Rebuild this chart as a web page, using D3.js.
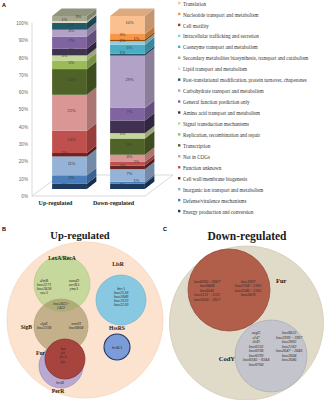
<!DOCTYPE html>
<html><head><meta charset="utf-8">
<script src="https://cdn.jsdelivr.net/npm/d3@7"></script>
<style>body{margin:0;background:#fff}svg{display:block}</style>
</head><body>
<svg id="c" width="327" height="400"></svg>
<script>
// ---------- DATA ----------
// COG categories, stacking order bottom -> top
const categories = [
  "Energy production and conversion",
  "Defense/virulence mechanisms",
  "Inorganic ion transport and metabolism",
  "Cell wall/membrane biogenesis",
  "Function unknown",
  "Not in COGs",
  "Transcription",
  "Replication, recombination and repair",
  "Signal transduction mechanisms",
  "Amino acid transport and metabolism",
  "General function prediction only",
  "Carbohydrate transport and metabolism",
  "Post-translational modification, protein turnover, chaperones",
  "Lipid transport and metabolism",
  "Secondary metabolites biosynthesis, transport and catabolism",
  "Coenzyme transport and metabolism",
  "Intracellular trafficking and secretion",
  "Cell motility",
  "Nucleotide transport and metabolism",
  "Translation"
];
const categoryColors = [
  "#1f3a5f","#4a7ebb","#95b3d7","#6b2421","#c0504d","#da9694","#4f6228","#9bbb59",
  "#c4d79b","#403151","#8064a2","#b3a2c7","#215968","#ddd9c3","#a5a88f","#4bacc6",
  "#93cddd","#984807","#f79646","#fac090"
];
const groups = ["Up-regulated","Down-regulated"];
const upValues   = [3,5,11,2,13,21,15,5,3,4,7,4,4,1,3,0,0,0,0,0];
const downValues = [3,1,7,2,2,4,9,0,3,7,7,29,1,0,0,5,2,1,3,10];
const yTicks = [0,0.1,0.2,0.3,0.4,0.5,0.6,0.7,0.8,0.9,1];

// Venn gene lists
const upLexA_left  = ["dinB","lmo2271","lmo2828","recA"];
const upLexA_right = ["umuD","uvrBA","yneA"];
const upLexA_SigB  = ["lmo2421-","1422"];
const upSigB_left  = ["clpE","lmo2398"];
const upSigB_right = ["mntH","lmo0804"];
const upFur        = ["kat","fri","frvA","fur"];
const upPerR       = ["hrtB"];
const upLisR       = ["htrA","lmo2518","lmo1080","lmo1919","lmo2210"];
const upHssRS      = ["hrtBA"];
const downFur_left  = ["lmo0365 - 0367","lmo0484","lmo0541","lmo1131 - 1132","lmo1956 - 1957"];
const downFur_right = ["lmo1007","lmo2104 - 2105","lmo2186 - 2185","lmo2430"];
const downCodY_left  = ["argG","clsF","ilvD","lmo0193","lmo0298","lmo0299","lmo0345 - 0344","lmo0768"];
const downCodY_right = ["lmo0833","lmo1999 - 1997","lmo2003","lmo2183","lmo2647 - 2646","lmo2664","lmo2686"];

// ---------- CHART A ----------
const svg = d3.select("#c");
const serif = "'Liberation Serif','Times New Roman',serif";
const sans = "'Liberation Sans',Arial,sans-serif";

svg.append("text").attr("x",2).attr("y",7).text("A")
  .attr("font-family",sans).attr("font-size",5.5).attr("font-weight","bold");

const rows = groups.map((g,gi)=>{
  const r = {group:g};
  categories.forEach((c,i)=>{ r[c] = gi===0 ? upValues[i] : downValues[i]; });
  return r;
});
const stack = d3.stack().keys(categories).offset(d3.stackOffsetExpand)(rows);

const x = d3.scaleBand().domain(groups).range([40.5,156.5]).paddingInner(0.4).paddingOuter(0.2);
const y = d3.scaleLinear().domain([0,1]).range([189,16]);
const yAx = d3.scaleLinear().domain([0,1]).range([196,23]);
const dx = 9.5, dy = -7.5;
const bw = x.bandwidth();

// floor & wall
const fx0 = 32, fx1 = 145;
svg.append("polygon")
  .attr("points",[[fx0,yAx(0)],[fx1,yAx(0)],[fx1+28,yAx(0)-21],[fx0+28,yAx(0)-21]].map(p=>p.join(",")).join(" "))
  .attr("fill","none").attr("stroke","#cfcfcf").attr("stroke-width",0.8);
svg.append("line").attr("x1",fx0).attr("x2",fx0).attr("y1",yAx(1)).attr("y2",yAx(0))
  .attr("stroke","#cfcfcf").attr("stroke-width",0.8);

const ax = svg.append("g").attr("transform",`translate(${fx0},0)`)
  .call(d3.axisLeft(yAx).tickValues(yTicks).tickFormat(d3.format(".0%")).tickSize(0).tickPadding(4));
ax.select(".domain").remove();
ax.selectAll("text").attr("font-family",sans).attr("font-size",4.6).attr("fill","#6a6a6a");

const bars = svg.append("g");
stack.forEach((s,si)=>{
  const col = categoryColors[si];
  s.forEach((d,gi)=>{
    if (d[1]-d[0] <= 0) return;
    const x0 = x(groups[gi]);
    const y1 = y(d[1]), y0 = y(d[0]);
    bars.append("rect").attr("x",x0).attr("y",y1).attr("width",bw).attr("height",y0-y1).attr("fill",col);
    bars.append("polygon")
      .attr("points",[[x0+bw,y1],[x0+bw+dx,y1+dy],[x0+bw+dx,y0+dy],[x0+bw,y0]].map(p=>p.join(",")).join(" "))
      .attr("fill",d3.color(col).darker(0.7));
  });
});
// top faces
groups.forEach((g,gi)=>{
  let top = -1;
  stack.forEach((s,si)=>{ if (s[gi][1]-s[gi][0] > 0) top = si; });
  const x0 = x(g), yt = y(1);
  bars.append("polygon")
    .attr("points",[[x0,yt],[x0+dx,yt+dy],[x0+bw+dx,yt+dy],[x0+bw,yt]].map(p=>p.join(",")).join(" "))
    .attr("fill",d3.color(categoryColors[top]).darker(0.35));
});
// value labels (thin segments alternate sides so labels don't collide)
groups.forEach((g,gi)=>{
  let k = 0;
  stack.forEach((s,si)=>{
    const d = s[gi];
    const v = rows[gi][categories[si]];
    if (v <= 0) return;
    const h = y(d[0]) - y(d[1]);
    let off = 0;
    if (h < 5.5) { off = (k % 2 === 0) ? -7 : 7; k++; } else { k = 0; }
    bars.append("text")
      .attr("x",x(g)+bw/2+2+off).attr("y",(y(d[0])+y(d[1]))/2+dy/2+3)
      .attr("text-anchor","middle").attr("font-family",sans).attr("font-size",4)
      .attr("fill","#3a3a3a").text(v+"%");
  });
});
// category labels
const xlabShift = -14;
svg.append("g").selectAll("text").data(groups).join("text")
  .attr("x",d=>x(d)+bw/2+xlabShift).attr("y",205)
  .attr("text-anchor","middle").attr("font-family",serif).attr("font-weight","bold")
  .attr("font-size",6).attr("fill","#222").text(d=>d);

// legend (reverse order)
const legendCats = categories.map((c,i)=>({c,col:categoryColors[i]})).reverse();
const leg = svg.append("g");
legendCats.forEach((d,i)=>{
  const ly = 4 + i*10.95;
  leg.append("rect").attr("x",178).attr("y",ly-2.2).attr("width",2.4).attr("height",2.4).attr("fill",d.col);
  leg.append("text").attr("x",183).attr("y",ly+1.6).attr("font-family",serif)
    .attr("font-size",5.1).attr("fill","#333").text(d.c);
});

// ---------- VENN B ----------
function circ(g,cx,cy,r,fill,stroke,sw){
  return g.append("circle").attr("cx",cx).attr("cy",cy).attr("r",r)
    .attr("fill",fill).attr("stroke",stroke).attr("stroke-width",sw||0.7);
}
function lines(g,arr,cx,cy0,step,opts){
  opts = opts||{};
  g.append("g").selectAll("text").data(arr).join("text")
    .attr("x",cx).attr("y",(d,i)=>cy0+i*step).attr("text-anchor",opts.anchor||"middle")
    .attr("font-family",serif).attr("font-style","italic").attr("font-size",opts.size||4.2)
    .attr("fill","#2a2a2a").text(d=>d);
}
function label(g,t,lx,ly,size,anchor){
  g.append("text").attr("x",lx).attr("y",ly).attr("text-anchor",anchor||"middle")
    .attr("font-family",serif).attr("font-weight","bold").attr("font-size",size).attr("fill","#1a1a1a").text(t);
}
const B = svg.append("g");
B.append("text").attr("x",2).attr("y",231).text("B").attr("font-family",sans).attr("font-size",5.5).attr("font-weight","bold");
label(B,"Up-regulated",80,239,10.5);
circ(B,85,320,78,"#fce3cf","#f6d6bd",0.8);
circ(B,62,284,28,"#c6d89c","#b3c784");
circ(B,61,326,27,"#c4b18b","#b09c74");
// overlap green/tan
B.append("clipPath").attr("id","clipSig").append("circle").attr("cx",61).attr("cy",326).attr("r",27);
B.append("circle").attr("cx",62).attr("cy",284).attr("r",28).attr("fill","#aead79").attr("clip-path","url(#clipSig)");
circ(B,61,366,22,"#b8a8d2","#9b8bbf");
circ(B,65,359,20,"#a8443e","#7f2c27");
circ(B,121,300,25,"#88c9e1","#6cb5d2");
circ(B,117,347,13,"#7b9cd8","#1f3766",1.1);

label(B,"LexA/RecA",62,260,5.6);
label(B,"LisR",118,266,5.6);
label(B,"SigB",32,329,5.6,"end");
label(B,"HssRS",117,330,5.6);
label(B,"Fur",45,355,5.6,"end");
label(B,"PerR",58,393,5.6);

lines(B,upLexA_left,44,282,3.9);
lines(B,upLexA_right,74,282,3.9);
lines(B,upLexA_SigB,61,305,4);
lines(B,upSigB_left,44,325,3.9);
lines(B,upSigB_right,76,325,3.9);
lines(B,upFur,63,350,4.2);
lines(B,upPerR,60,384,4);
lines(B,upLisR,121,290,3.9);
lines(B,upHssRS,117,349,4);

// ---------- VENN C ----------
const C = svg.append("g");
C.append("text").attr("x",163).attr("y",231).text("C").attr("font-family",sans).attr("font-size",5.5).attr("font-weight","bold");
label(C,"Down-regulated",247,240,11.5);
circ(C,246.5,323,77,"#e0dbc8","#d2ccb7",0.8);
circ(C,229,290,41,"#b15e4b","#8f4536");
circ(C,271,356,36,"#c3c4cc","#a8a9b4");
label(C,"Fur",276,283,6.5,"start");
label(C,"CodY",235,361,6.5,"end");
lines(C,downFur_left,207,283,4.4);
lines(C,downFur_right,248,283,4.4);
lines(C,downCodY_left,256,334,4.5);
lines(C,downCodY_right,289,334,4.5);
</script>
</body></html>
